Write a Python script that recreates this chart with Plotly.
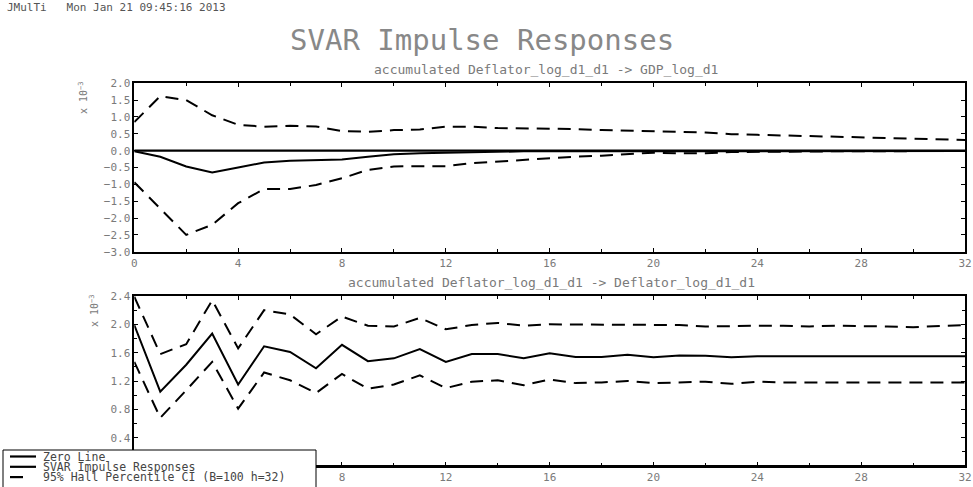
import plotly.graph_objects as go

# ---------------- data ----------------
horizon = list(range(33))

# Panel 1: accumulated Deflator_log_d1_d1 -> GDP_log_d1  (x 10^-3)
gdp_irf = [-0.02, -0.18, -0.47, -0.65, -0.50, -0.35, -0.30, -0.29, -0.26, -0.18,
           -0.11, -0.08, -0.06, -0.05, -0.03, -0.02, -0.02, -0.02, -0.01, -0.01,
           -0.01, -0.01, -0.01, -0.01, -0.01, -0.01, -0.01, -0.01, -0.01, -0.01,
           -0.01, -0.01, -0.01]
gdp_upper = [0.85, 1.62, 1.50, 1.05, 0.77, 0.71, 0.74, 0.72, 0.58, 0.56,
             0.61, 0.63, 0.71, 0.71, 0.67, 0.66, 0.66, 0.64, 0.61, 0.60,
             0.58, 0.56, 0.54, 0.49, 0.47, 0.45, 0.42, 0.40, 0.38, 0.36,
             0.35, 0.33, 0.32]
gdp_lower = [-0.94, -1.71, -2.50, -2.20, -1.56, -1.14, -1.14, -1.02, -0.82, -0.57,
             -0.47, -0.46, -0.46, -0.37, -0.32, -0.28, -0.23, -0.18, -0.15, -0.11,
             -0.06, -0.08, -0.08, -0.04, -0.03, -0.02, -0.02, -0.02, -0.02, -0.01,
             -0.01, -0.01, -0.01]

# Panel 2: accumulated Deflator_log_d1_d1 -> Deflator_log_d1_d1  (x 10^-3)
defl_irf = [1.99, 1.05, 1.43, 1.87, 1.15, 1.69, 1.61, 1.38, 1.71, 1.48,
            1.52, 1.65, 1.47, 1.58, 1.58, 1.52, 1.59, 1.54, 1.54, 1.57,
            1.535, 1.56, 1.555, 1.535, 1.55, 1.55, 1.55, 1.55, 1.55, 1.55,
            1.55, 1.55, 1.55]
defl_upper = [2.39, 1.58, 1.72, 2.34, 1.66, 2.20, 2.14, 1.86, 2.11, 1.98,
              1.97, 2.09, 1.93, 1.99, 2.02, 1.98, 2.00, 2.00, 2.00, 1.99,
              1.99, 1.99, 1.97, 1.98, 1.98, 1.98, 1.97, 1.98, 1.98, 1.97,
              1.96, 1.98, 1.99]
defl_lower = [1.47, 0.68, 1.07, 1.47, 0.81, 1.32, 1.21, 1.03, 1.30, 1.09,
              1.15, 1.28, 1.10, 1.19, 1.21, 1.14, 1.22, 1.17, 1.18, 1.20,
              1.17, 1.18, 1.19, 1.16, 1.19, 1.18, 1.18, 1.18, 1.18, 1.18,
              1.18, 1.18, 1.18]
zero_line = [0.0] * 33

x_ticks = [0, 4, 8, 12, 16, 20, 24, 28, 32]
y1_ticks = [-3.0, -2.5, -2.0, -1.5, -1.0, -0.5, 0.0, 0.5, 1.0, 1.5, 2.0]
y2_ticks = [0.4, 0.8, 1.2, 1.6, 2.0, 2.4]

# ---------------- figure ----------------
W, H = 973, 487
FONT = "DejaVu Sans Mono"
GRAY = "#7a7a7a"
DASH = "13px,8px"

fig = go.Figure()

def add_panel(xa, ya, irf, up, lo):
    fig.add_trace(go.Scatter(x=horizon, y=zero_line, mode="lines", xaxis=xa, yaxis=ya,
                             line=dict(color="black", width=2.2), showlegend=False))
    fig.add_trace(go.Scatter(x=horizon, y=irf, mode="lines", xaxis=xa, yaxis=ya,
                             line=dict(color="black", width=2), showlegend=False))
    fig.add_trace(go.Scatter(x=horizon, y=up, mode="lines", xaxis=xa, yaxis=ya,
                             line=dict(color="black", width=2, dash=DASH), showlegend=False))
    fig.add_trace(go.Scatter(x=horizon, y=lo, mode="lines", xaxis=xa, yaxis=ya,
                             line=dict(color="black", width=2, dash=DASH), showlegend=False))

add_panel("x", "y", gdp_irf, gdp_upper, gdp_lower)
add_panel("x2", "y2", defl_irf, defl_upper, defl_lower)

def px_x(p):
    return p / W

def px_y(p):
    return 1 - p / H

xdom = [px_x(134.3), px_x(965)]
axis_common = dict(showline=True, linecolor="black", linewidth=1.5, mirror="ticks",
                   ticks="inside", ticklen=4, tickcolor="black", tickwidth=1,
                   showgrid=False, zeroline=False, automargin=False,
                   tickfont=dict(family=FONT, size=11, color=GRAY))

fig.update_layout(
    width=W, height=H,
    margin=dict(l=0, r=0, t=0, b=0, autoexpand=False),
    paper_bgcolor="white", plot_bgcolor="white",
    xaxis=dict(domain=xdom, anchor="y", range=[0, 32], tickvals=x_ticks,
               ticktext=[str(v) for v in x_ticks],
               minor=dict(dtick=2, ticks="inside", ticklen=3, tickcolor="black"),
               **axis_common),
    yaxis=dict(domain=[px_y(251.7), px_y(83.3)], anchor="x", range=[-3.0, 2.0],
               tickvals=y1_ticks, ticktext=[f"{v:.1f}".replace("-", "\u2212") for v in y1_ticks],
               **axis_common),
    xaxis2=dict(domain=xdom, anchor="y2", range=[0, 32], tickvals=x_ticks,
                ticktext=[str(v) for v in x_ticks],
                minor=dict(dtick=2, ticks="inside", ticklen=3, tickcolor="black"),
                **axis_common),
    yaxis2=dict(domain=[px_y(466), px_y(296)], anchor="x2", range=[0.0, 2.4],
                tickvals=y2_ticks, ticktext=[f"{v:.1f}" for v in y2_ticks],
                minor=dict(dtick=0.2, ticks="inside", ticklen=3, tickcolor="black"),
                **axis_common),
    showlegend=False,
)

ann = []
ann.append(dict(text="JMulTi   Mon Jan 21 09:45:16 2013", x=px_x(5), y=px_y(7),
                xref="paper", yref="paper", xanchor="left", yanchor="middle",
                showarrow=False, font=dict(family=FONT, size=11, color="#555")))
ann.append(dict(text="SVAR Impulse Responses", x=px_x(482), y=px_y(40),
                xref="paper", yref="paper", xanchor="center", yanchor="middle",
                showarrow=False, font=dict(family=FONT, size=29, color="#888")))
ann.append(dict(text="accumulated Deflator_log_d1_d1 -> GDP_log_d1", x=px_x(546), y=px_y(69),
                xref="paper", yref="paper", xanchor="center", yanchor="middle",
                showarrow=False, font=dict(family=FONT, size=13, color=GRAY)))
ann.append(dict(text="accumulated Deflator_log_d1_d1 -> Deflator_log_d1_d1", x=px_x(551), y=px_y(282),
                xref="paper", yref="paper", xanchor="center", yanchor="middle",
                showarrow=False, font=dict(family=FONT, size=13, color=GRAY)))
for xc, yc in [(83, 98), (94, 311)]:
    ann.append(dict(text="x 10<sup>\u22123</sup>", x=px_x(xc), y=px_y(yc), textangle=-90,
                    xref="paper", yref="paper", xanchor="center", yanchor="middle",
                    showarrow=False, font=dict(family=FONT, size=10, color=GRAY)))

# legend (drawn manually to get the compact rows)
legend_rows = [("Zero Line", "solid"), ("SVAR Impulse Responses", "solid"),
               ("95% Hall Percentile CI (B=100 h=32)", "dash")]
shapes = [dict(type="rect", xref="paper", yref="paper", x0=px_x(3), x1=px_x(316),
               y0=px_y(497), y1=px_y(450), line=dict(color="black", width=1),
               fillcolor="white", layer="above")]
for i, (label, style) in enumerate(legend_rows):
    yy = 456.5 + i * 10.3
    x1 = 36 if style == "solid" else 23
    shapes.append(dict(type="line", xref="paper", yref="paper", x0=px_x(10), x1=px_x(x1),
                       y0=px_y(yy), y1=px_y(yy), line=dict(color="black", width=2.2), layer="above"))
    ann.append(dict(text=label, x=px_x(41), y=px_y(yy), xref="paper", yref="paper",
                    xanchor="left", yanchor="middle", showarrow=False,
                    font=dict(family=FONT, size=11.5, color="#444")))

fig.update_layout(annotations=ann, shapes=shapes)
fig.write_html("out.html", config={"displayModeBar": False},
               post_script="document.documentElement.style.overflow='hidden';"
                           "document.body.style.margin='0';document.body.style.overflow='hidden';")
